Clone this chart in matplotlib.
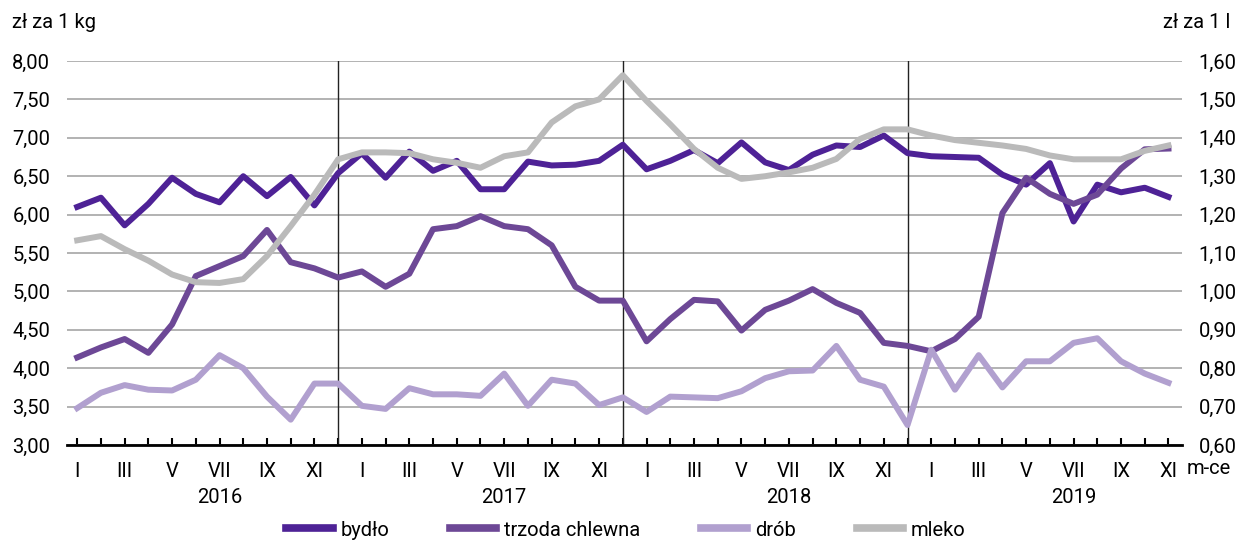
import matplotlib
matplotlib.use('Agg')
import matplotlib.pyplot as plt
from matplotlib.lines import Line2D

plt.rcParams['font.family'] = ['Roboto', 'DejaVu Sans']

months = ['I', 'II', 'III', 'IV', 'V', 'VI', 'VII', 'VIII', 'IX', 'X', 'XI', 'XII']
years = ['2016', '2017', '2018', '2019']

bydlo = [6.10, 6.22, 5.86, 6.14, 6.48, 6.27, 6.16, 6.50, 6.24, 6.49, 6.12, 6.54,
         6.80, 6.48, 6.82, 6.57, 6.70, 6.33, 6.33, 6.69, 6.64, 6.65, 6.70, 6.91,
         6.59, 6.70, 6.84, 6.67, 6.94, 6.68, 6.58, 6.78, 6.90, 6.88, 7.03, 6.80,
         6.76, 6.75, 6.74, 6.52, 6.39, 6.67, 5.91, 6.39, 6.29, 6.35, 6.23]
trzoda = [4.14, 4.27, 4.38, 4.20, 4.57, 5.20, 5.33, 5.46, 5.80, 5.38, 5.30, 5.18,
          5.26, 5.06, 5.23, 5.81, 5.85, 5.98, 5.85, 5.81, 5.60, 5.06, 4.88, 4.88,
          4.35, 4.64, 4.89, 4.87, 4.49, 4.76, 4.88, 5.03, 4.85, 4.72, 4.33, 4.29,
          4.22, 4.38, 4.67, 6.02, 6.48, 6.27, 6.14, 6.26, 6.60, 6.85, 6.86]
drob = [3.48, 3.68, 3.78, 3.72, 3.71, 3.85, 4.17, 4.00, 3.63, 3.33, 3.80, 3.80,
        3.51, 3.47, 3.74, 3.66, 3.66, 3.64, 3.93, 3.51, 3.85, 3.80, 3.52, 3.62,
        3.43, 3.63, 3.62, 3.61, 3.70, 3.87, 3.96, 3.97, 4.29, 3.85, 3.76, 3.26,
        4.24, 3.72, 4.17, 3.75, 4.09, 4.09, 4.33, 4.39, 4.09, 3.93, 3.81]
mleko = [1.133, 1.144, 1.110, 1.080, 1.044, 1.024, 1.022, 1.032, 1.092, 1.170, 1.252, 1.344,
         1.362, 1.362, 1.360, 1.344, 1.335, 1.322, 1.352, 1.362, 1.440, 1.482, 1.500, 1.563,
         1.496, 1.435, 1.371, 1.322, 1.293, 1.300, 1.310, 1.322, 1.345, 1.397, 1.422, 1.422,
         1.406, 1.394, 1.387, 1.380, 1.371, 1.354, 1.344, 1.344, 1.344, 1.366, 1.380]

c_bydlo = '#4e2296'
c_trzoda = '#6d4896'
c_drob = '#b1a0cf'
c_mleko = '#bababa'

n = len(bydlo)
x = list(range(n))
fs = 14.5

fig = plt.figure(figsize=(12.42, 5.44), dpi=100)
ax = fig.add_axes([67 / 1242, 1 - 445 / 544, (1182 - 67) / 1242, (445 - 61) / 544])
ax2 = ax.twinx()

ax.set_xlim(-0.43, 46.57)
ax.set_ylim(3, 8)
ax2.set_ylim(0.6, 1.6)

ax.set_yticks([3 + 0.5 * i for i in range(11)])
ax.set_yticklabels([f'{3 + 0.5 * i:.2f}'.replace('.', ',') for i in range(11)], fontsize=fs)
ax2.set_yticks([0.6 + 0.1 * i for i in range(11)])
ax2.set_yticklabels([f'{0.6 + 0.1 * i:.2f}'.replace('.', ',') for i in range(11)], fontsize=fs)
ax.grid(axis='y', color='#a6a6a6', linewidth=1.2)
ax.set_axisbelow(True)

for a in (ax, ax2):
    for s in ('left', 'right', 'top'):
        a.spines[s].set_visible(False)
    a.tick_params(axis='y', length=0)
ax.tick_params(axis='y', pad=12)
ax2.tick_params(axis='y', pad=12)
ax.spines['bottom'].set_linewidth(2)
ax2.spines['bottom'].set_visible(False)

# year separators
for i in range(11, n, 12):
    ax.axvline(i, color='#222222', linewidth=1, zorder=1)

ax.set_xticks(x)
ax.set_xticklabels([months[i % 12] if i % 2 == 0 else '' for i in x], fontsize=fs)
ax.tick_params(axis='x', direction='in', length=5, width=1.5, pad=12)

ax.plot(x, bydlo, color=c_bydlo, linewidth=4.3, zorder=3)
ax.plot(x, trzoda, color=c_trzoda, linewidth=4.3, zorder=4)
ax.plot(x, drob, color=c_drob, linewidth=4.3, zorder=5)
ax2.plot(x, mleko, color=c_mleko, linewidth=4.3)

for k, yr in enumerate(years):
    ax.text(6 + 12 * k, -0.138, yr, transform=ax.get_xaxis_transform(),
            ha='center', va='center', fontsize=fs)
ax.text(46.75, -0.06, 'm-ce', transform=ax.get_xaxis_transform(),
        ha='left', va='center', fontsize=fs)

fig.text(12 / 1242, 1 - 22 / 544, 'zł za 1 kg', ha='left', va='center', fontsize=fs)
fig.text(1230 / 1242, 1 - 22 / 544, 'zł za 1 l', ha='right', va='center', fontsize=fs)

handles = [Line2D([0], [0], color=c, linewidth=5.5) for c in (c_bydlo, c_trzoda, c_drob, c_mleko)]
fig.legend(handles, ['bydło', 'trzoda chlewna', 'drób', 'mleko'], loc='center',
           bbox_to_anchor=(626 / 1242, 1 - 530 / 544), ncol=4, frameon=False,
           fontsize=fs, handlelength=2.3, columnspacing=3.0, handletextpad=0.4)

fig.savefig('out.png', dpi=100)
